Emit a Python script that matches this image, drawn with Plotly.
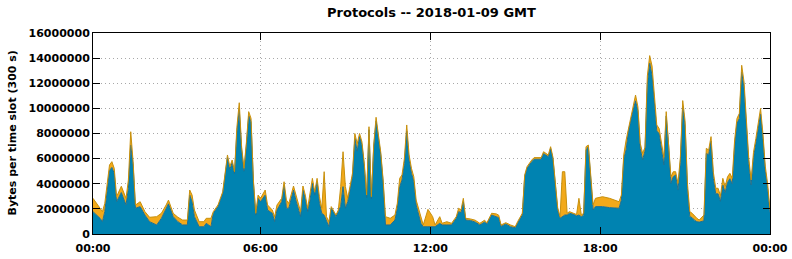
import plotly.graph_objects as go
import pandas as pd

# 5-minute slot index (slot n ends at n*5 minutes after 00:00)
slots = [1, 4, 5, 6, 8, 9, 10, 11, 13, 15, 16, 17, 18, 19, 21, 23, 25, 28, 30, 32,
         33, 35, 37, 39, 41, 42, 43, 44, 46, 48, 49, 51, 52, 54, 56, 58, 59, 60, 61, 62,
         63, 64, 65, 66, 67, 68, 69, 70, 71, 72, 74, 75, 77, 78, 79, 81, 82, 83, 84, 86,
         87, 89, 90, 91, 92, 93, 94, 95, 96, 97, 98, 99, 100, 101, 102, 104, 105, 106, 107, 108,
         109, 111, 112, 113, 114, 115, 116, 117, 118, 119, 120, 121, 123, 124, 125, 127, 129, 130, 131, 132,
         133, 134, 135, 136, 137, 138, 140, 141, 143, 145, 146, 148, 149, 151, 153, 155, 156, 157, 158, 159,
         161, 163, 165, 167, 168, 170, 172, 173, 174, 176, 178, 180, 181, 183, 184, 185, 187, 188, 191, 192,
         194, 195, 196, 197, 198, 199, 200, 201, 202, 203, 205, 206, 207, 208, 209, 210, 211, 212, 213, 214,
         217, 220, 222, 224, 225, 226, 227, 228, 230, 231, 232, 233, 234, 235, 236, 237, 238, 239, 240, 241,
         242, 243, 244, 245, 246, 247, 248, 249, 250, 251, 252, 253, 254, 255, 256, 257, 258, 259, 260, 261,
         262, 263, 264, 265, 266, 267, 268, 269, 270, 271, 272, 273, 274, 275, 276, 277, 278, 279, 280, 281,
         282, 283, 284, 285, 286, 287, 288]

# total bytes per slot (millions) = top of the orange layer
total_mb = [2.84, 2.05, 1.78, 2.44, 5.49, 5.76, 5.23, 2.97, 3.8, 2.84, 4.3, 8.14, 5.76, 2.31, 2.57, 1.78, 1.33, 1.38, 1.65, 2.31,
            2.7, 1.65, 1.33, 1.11, 1.11, 3.5, 3.1, 1.91, 0.98, 0.98, 1.25, 1.25, 1.78, 2.31, 3.37, 6.29, 5.36, 5.89, 4.96, 8.5,
            10.45, 6.95, 5.23, 7.22, 9.74, 9.2, 4.3, 1.65, 3.1, 2.84, 3.5, 2.31, 1.91, 1.38, 2.31, 2.84, 4.16, 2.7, 2.44, 3.82,
            3.1, 1.78, 3.82, 3.1, 2.05, 3.1, 4.43, 3.37, 4.43, 2.97, 2.05, 4.96, 1.38, 0.98, 2.18, 1.51, 1.91, 3.77, 6.55, 3.77,
            2.84, 4.83, 8.0, 7.2, 8.0, 7.35, 5.63, 3.1, 8.54, 2.97, 7.08, 9.29, 6.5, 4.3, 1.38, 1.25, 1.51, 2.44, 4.43, 4.7,
            6.0, 8.68, 6.3, 5.23, 4.56, 2.7, 1.51, 0.72, 1.96, 1.38, 0.72, 1.38, 0.85, 0.98, 0.85, 1.38, 2.05, 1.91, 2.84, 1.25,
            1.2, 1.1, 0.85, 1.1, 0.9, 1.65, 1.6, 1.5, 0.72, 0.9, 0.72, 0.58, 0.98, 1.65, 4.7, 5.36, 5.89, 6.08, 6.08, 6.55,
            6.29, 6.95, 6.1, 3.77, 2.1, 1.38, 4.96, 4.96, 1.65, 1.78, 1.65, 1.55, 2.84, 1.51, 1.65, 6.95, 7.08, 4.56, 2.31, 2.84,
            2.97, 2.84, 2.7, 2.57, 3.1, 6.3, 7.48, 8.41, 10.27, 11.06, 10.13, 7.22, 6.42, 6.9, 12.58, 14.2, 13.37, 10.9, 8.68, 8.4,
            7.22, 6.1, 9.74, 7.5, 4.56, 4.96, 4.96, 4.03, 6.1, 10.62, 9.0, 4.03, 1.78, 1.65, 1.4, 1.25, 1.11, 1.3, 1.51, 6.82,
            6.68, 7.75, 4.9, 3.64, 3.64, 3.04, 4.43, 3.77, 4.56, 4.83, 4.43, 7.48, 9.2, 9.6, 13.43, 12.1, 8.5, 6.0, 4.3, 6.5,
            7.6, 8.8, 10.0, 8.0, 5.4, 4.0, 1.91]

# bytes of the blue (bottom) protocol per slot (millions)
blue_mb = [1.78, 1.25, 0.98, 1.78, 5.05, 5.3, 4.83, 2.57, 3.3, 2.31, 3.6, 7.08, 5.49, 2.05, 2.18, 1.51, 0.98, 0.72, 1.25, 2.05,
           2.4, 1.38, 0.98, 0.72, 0.72, 3.1, 2.57, 1.38, 0.58, 0.58, 0.85, 0.58, 1.65, 2.18, 3.24, 6.1, 5.1, 5.7, 4.8, 8.1,
           9.92, 6.7, 5.0, 7.0, 9.4, 8.9, 4.1, 1.51, 2.84, 2.57, 3.1, 1.91, 1.65, 0.98, 1.91, 2.57, 3.9, 2.05, 2.05, 3.5,
           2.7, 1.38, 3.5, 2.8, 1.78, 2.7, 4.03, 3.1, 4.16, 2.44, 1.65, 1.5, 0.98, 0.58, 2.05, 1.38, 1.78, 2.2, 3.77, 2.05,
           2.57, 4.56, 7.6, 6.6, 7.75, 7.1, 5.4, 2.9, 8.3, 2.8, 6.9, 9.0, 6.3, 4.1, 0.72, 0.72, 1.11, 2.05, 3.77, 4.3,
           5.6, 8.2, 5.9, 4.83, 4.2, 2.31, 0.85, 0.58, 0.58, 0.58, 0.58, 0.85, 0.72, 0.72, 0.72, 1.25, 1.78, 1.7, 2.57, 1.11,
           1.08, 0.95, 0.72, 0.95, 0.8, 1.51, 1.38, 1.3, 0.6, 0.8, 0.58, 0.5, 0.85, 1.51, 4.56, 5.23, 5.76, 5.95, 5.95, 6.4,
           6.15, 6.8, 5.95, 3.6, 1.9, 1.25, 1.38, 1.51, 1.51, 1.65, 1.55, 1.45, 1.51, 1.38, 1.5, 6.68, 6.95, 4.3, 1.91, 2.18,
           2.18, 2.1, 2.05, 2.05, 2.7, 6.0, 6.7, 8.2, 9.87, 10.6, 9.8, 6.8, 5.9, 6.6, 11.9, 13.6, 12.6, 10.5, 8.2, 8.0,
           6.9, 5.5, 9.4, 7.1, 4.03, 4.56, 4.7, 3.5, 5.7, 10.2, 8.6, 3.6, 1.38, 1.3, 1.1, 0.98, 0.95, 0.98, 1.05, 6.42,
           6.3, 7.4, 4.4, 3.2, 3.2, 2.6, 3.9, 3.3, 4.1, 4.4, 4.0, 7.0, 8.8, 9.2, 12.9, 11.6, 8.1, 5.6, 3.9, 6.1,
           7.2, 8.4, 9.55, 7.6, 5.0, 3.6, 1.7]

y_ticks = [0, 2000000, 4000000, 6000000, 8000000, 10000000, 12000000, 14000000, 16000000]
x_tick_times = ["2018-01-09 00:05", "2018-01-09 06:00", "2018-01-09 12:00",
                "2018-01-09 18:00", "2018-01-10 00:00"]
x_tick_labels = ["00:00", "06:00", "12:00", "18:00", "00:00"]

day = pd.Timestamp("2018-01-09")
times = [day + pd.Timedelta(minutes=5 * n) for n in slots]
blue = [b * 1e6 for b in blue_mb]
orange = [(t - b) * 1e6 for t, b in zip(total_mb, blue_mb)]

BOLD = dict(family="DejaVu Sans", size=11, color="black", weight="bold")

fig = go.Figure()
fig.add_trace(go.Scatter(x=times, y=blue, stackgroup="p", mode="lines",
                         line=dict(color="#1f6f8f", width=1), fillcolor="#0083b1",
                         name="blue"))
fig.add_trace(go.Scatter(x=times, y=orange, stackgroup="p", mode="lines",
                         line=dict(color="#c8900c", width=1), fillcolor="#f2a91a",
                         name="orange"))

fig.update_layout(
    width=792, height=259,
    margin=dict(l=93, r=22, t=33, b=25, autoexpand=False),
    paper_bgcolor="white", plot_bgcolor="white",
    showlegend=False,
    font=BOLD,
    title=dict(text="Protocols -- 2018-01-09 GMT", x=(93 + 770) / 2 / 792, xanchor="center",
               y=1 - 12 / 259, yanchor="middle",
               font=dict(family="DejaVu Sans", size=13, color="black", weight="bold")),
    annotations=[dict(text="Bytes per time slot (300 s)", textangle=-90,
                      xref="paper", yref="paper", x=(12 - 93) / 677, y=0.5,
                      xanchor="center", yanchor="middle", showarrow=False,
                      font=BOLD)],
)
fig.update_xaxes(type="date", range=[x_tick_times[0], x_tick_times[-1]],
                 tickvals=x_tick_times, ticktext=x_tick_labels, automargin=False,
                 showline=True, linecolor="black", linewidth=1, mirror="ticks",
                 ticks="inside", ticklen=7, tickcolor="black", tickwidth=1,
                 showgrid=True, gridcolor="#a8a8a8", griddash="1px,3px", gridwidth=1,
                 zeroline=False, tickfont=BOLD, ticklabelstandoff=4)
fig.update_yaxes(range=[0, 16000000], tickvals=y_ticks, tickformat="d", automargin=False,
                 showline=True, linecolor="black", linewidth=1, mirror="ticks",
                 ticks="inside", ticklen=7, tickcolor="black", tickwidth=1,
                 showgrid=True, gridcolor="#a8a8a8", griddash="1px,3px", gridwidth=1,
                 zeroline=False, tickfont=BOLD)

fig.write_html("out.html")
